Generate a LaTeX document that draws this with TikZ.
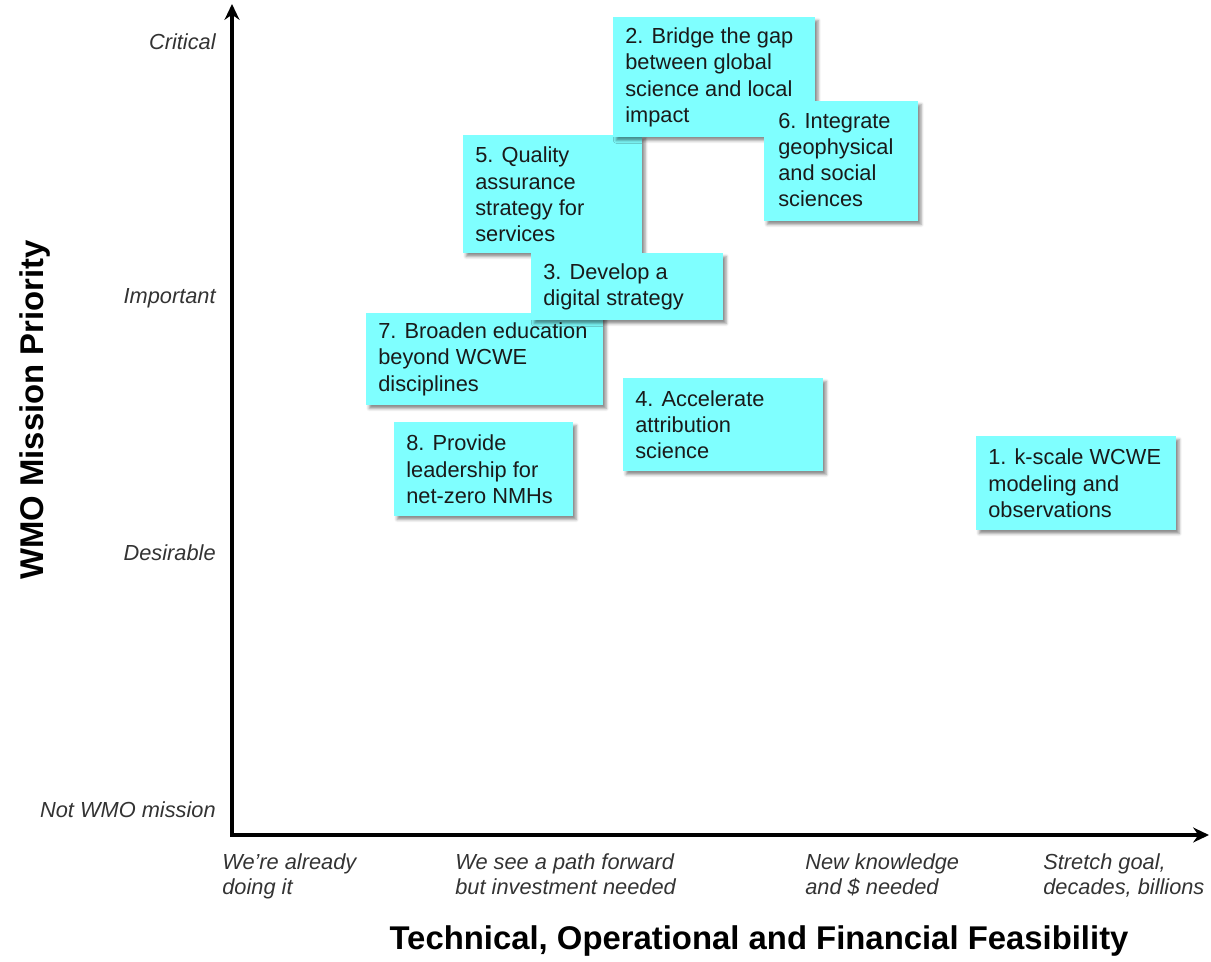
\documentclass[tikz,border=0pt]{standalone}
\usepackage{fontspec}
\setmainfont{Liberation Sans}
\usetikzlibrary{shadows.blur,arrows.meta}
\definecolor{boxcyan}{RGB}{127,255,255}
\definecolor{boxtext}{RGB}{26,26,26}
\definecolor{axtext}{RGB}{51,51,51}
\begin{document}
\begin{tikzpicture}[x=0.02cm,y=-0.02cm,
  card/.style={rectangle, fill=boxcyan, draw=none, inner sep=0pt, anchor=north west,
    blur shadow={shadow xshift=1.6pt, shadow yshift=-1.8pt, shadow blur radius=1.6pt, shadow opacity=45}},
  cardtext/.style={anchor=west, align=left, inner sep=0pt, xshift=0.24cm, text=boxtext,
    font=\fontsize{12.4}{14.9}\selectfont},
  ylab/.style={anchor=east, inner sep=0pt, text=axtext, font=\itshape\fontsize{12.4}{14.2}\selectfont},
  xlab/.style={anchor=north west, align=left, inner sep=0pt, text=axtext, font=\itshape\fontsize{12.4}{14.2}\selectfont},
  axistitle/.style={inner sep=0pt, font=\bfseries\fontsize{18.7}{22}\selectfont},
  axisline/.style={line width=2.1pt, {Stealth[length=9pt,width=8.5pt]}-{Stealth[length=9pt,width=8.5pt]}}
]
\useasboundingbox (0,0) rectangle (1211,961);
% axes
\coordinate (ytop) at (232,4);
\coordinate (O) at (232,835);
\coordinate (xend) at (1209,835);
\draw[axisline] (ytop) -- (O) -- (xend);

% y labels
\node[ylab] (lcrit) at (216,42) {Critical};
\node[ylab] (limp) at (216,298) {Important};
\node[ylab] (ldes) at (216,553) {Desirable};
\node[ylab] (lnot) at (216,810) {Not WMO mission};

% x labels
\node[xlab] (lx1) at (222,853) {We're already\\doing it};
\node[xlab] (lx2) at (455,853) {We see a path forward\\but investment needed};
\node[xlab] (lx3) at (805,853) {New knowledge\\and \$ needed};
\node[xlab] (lx4) at (1043,853) {Stretch goal,\\decades, billions};

% axis titles
\node[axistitle] (xtitle) at (759,941) {Technical, Operational and Financial Feasibility};
\node[axistitle, rotate=90] (ytitle) at (35,410) {WMO Mission Priority};

% cards
\node[card, minimum width=3.58cm, minimum height=2.36cm] (b5) at (463,135) {};
\node[cardtext] (t5) at (b5.west) {5. Quality\\assurance\\strategy for\\services};

\node[card, minimum width=4.74cm, minimum height=1.84cm] (b7) at (366,313) {};
\node[cardtext] (t7) at (b7.west) {7. Broaden education\\beyond WCWE\\disciplines};

\node[card, minimum width=3.84cm, minimum height=1.34cm] (b3) at (531,253) {};
\node[cardtext] (t3) at (b3.west) {3. Develop a\\digital strategy};

\node[card, minimum width=4.04cm, minimum height=2.4cm] (b2) at (613,17) {};
\node[cardtext] (t2) at (b2.west) {2. Bridge the gap\\between global\\science and local\\impact};

\node[card, minimum width=3.08cm, minimum height=2.4cm] (b6) at (764,101) {};
\node[cardtext, xshift=0.04cm] (t6) at ([yshift=0.03cm]b6.west) {6. Integrate\\geophysical\\and social\\sciences};

\node[card, minimum width=4.0cm, minimum height=1.86cm] (b4) at (623,378) {};
\node[cardtext] (t4) at (b4.west) {4. Accelerate\\attribution\\science};

\node[card, minimum width=3.58cm, minimum height=1.88cm] (b8) at (394,422) {};
\node[cardtext] (t8) at (b8.west) {8. Provide\\leadership for\\net-zero NMHs};

\node[card, minimum width=4.0cm, minimum height=1.88cm] (b1) at (976,436) {};
\node[cardtext] (t1) at (b1.west) {1. k-scale WCWE\\modeling and\\observations};
\end{tikzpicture}
\end{document}
